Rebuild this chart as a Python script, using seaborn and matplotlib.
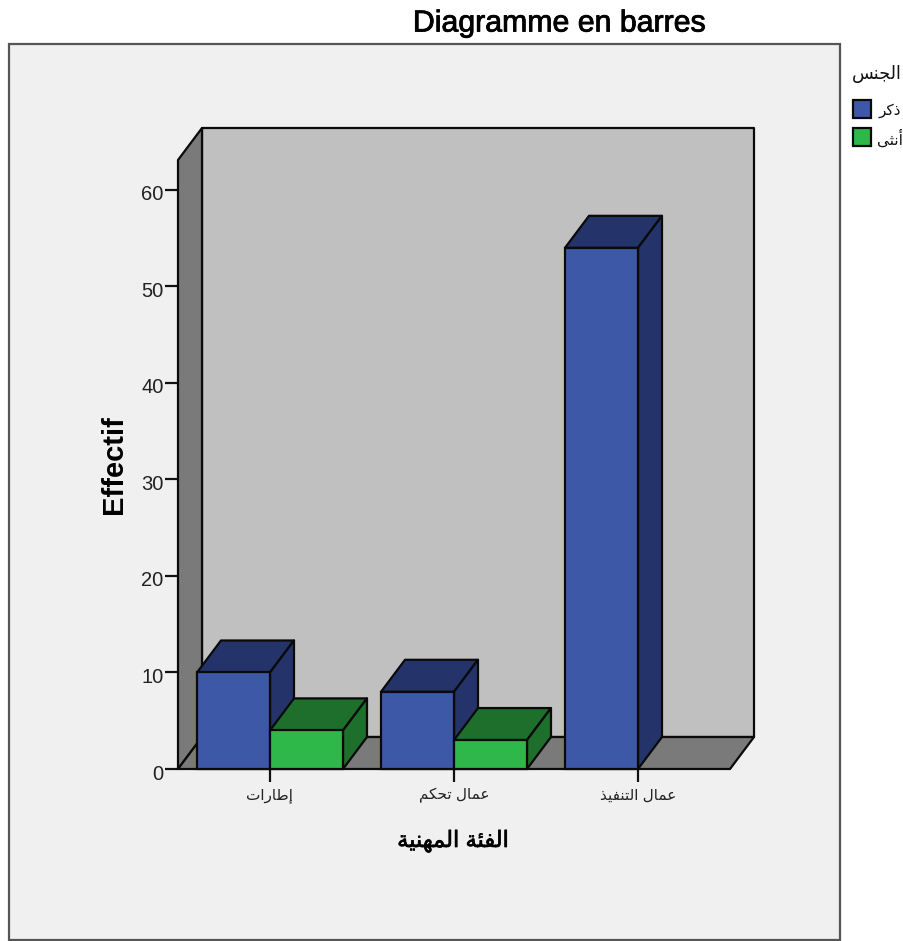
import unicodedata

import matplotlib
matplotlib.use("Agg")
import matplotlib.patheffects as pe
import matplotlib.pyplot as plt
import matplotlib.transforms as mtransforms
import pandas as pd
import seaborn as sns
from matplotlib.patches import Polygon, Rectangle

# Data
professions = ["إطارات", "عمال تحكم", "عمال التنفيذ"]
genders = ["ذكر", "أنثى"]
male_counts = [10, 8, 54]
female_counts = [4, 3]
y_ticks = [0, 10, 20, 30, 40, 50, 60]
title = "Diagramme en barres"
y_label = "Effectif"
x_label = "الفئة المهنية"
legend_title = "الجنس"

front_colors = ["#3e58a8", "#2eb84a"]
shade_colors = ["#24346b", "#1e6e2c"]

W, H = 904, 941
DEPTH_PX = (24, 32)
Y_MAX = 63.1
LINE = 1.6

# Letters that never connect to the following letter.
RIGHT_JOINING = set("اأإآدذرزوؤةى")


def shape(text):
    """Turn logical Arabic text into joined forms in drawing order."""
    out = []
    for i, ch in enumerate(text):
        if not ("\u0600" <= ch <= "\u06ff"):
            out.append(ch)
            continue
        prev = text[i - 1] if i else " "
        nxt = text[i + 1] if i + 1 < len(text) else " "
        joins_prev = "\u0600" <= prev <= "\u06ff" and prev not in RIGHT_JOINING
        joins_next = "\u0600" <= nxt <= "\u06ff" and ch not in RIGHT_JOINING
        form = {(False, False): "ISOLATED", (True, False): "FINAL",
                (False, True): "INITIAL", (True, True): "MEDIAL"}[(joins_prev, joins_next)]
        out.append(unicodedata.lookup(f"{unicodedata.name(ch)} {form} FORM"))
    return "".join(reversed(out))


sns.set_theme(style="white")
plt.rcParams["font.family"] = ["Liberation Sans", "DejaVu Sans"]

frame = pd.DataFrame({
    "profession": professions + professions[:2],
    "gender": [genders[0]] * 3 + [genders[1]] * 2,
    "count": male_counts + female_counts,
})

fig = plt.figure(figsize=(W / 100, H / 100), dpi=100, facecolor="white")
fig.add_artist(Rectangle((9 / W, 1 - 940 / H), 831 / W, 896 / H, transform=fig.transFigure,
                         facecolor="#f0f0f0", edgecolor="#555555", linewidth=1.6, zorder=-5))

ax = fig.add_axes([178 / W, 1 - 769 / H, 552 / W, 609 / H])
ax.patch.set_visible(False)

sns.barplot(data=frame, x="profession", y="count", hue="gender", order=professions,
            hue_order=genders, palette=front_colors, saturation=1, dodge=True,
            width=146 / 184, gap=0, edgecolor="#0a0a0a", linewidth=LINE, legend=False,
            errorbar=None, ax=ax)

ax.set_xlim(-0.5, 2.5)
ax.set_ylim(0, Y_MAX)
dx = DEPTH_PX[0] * 3 / 552
dy = DEPTH_PX[1] * Y_MAX / 609


def box_face(points, color, z):
    ax.add_patch(Polygon(points, closed=True, facecolor=color, edgecolor="#0a0a0a",
                         linewidth=LINE, clip_on=False, zorder=z, joinstyle="round"))


# Back wall, left wall and floor of the box
x0, x1 = ax.get_xlim()
box_face([(x0 + dx, dy), (x1 + dx, dy), (x1 + dx, Y_MAX + dy), (x0 + dx, Y_MAX + dy)], "#c0c0c0", 1)
box_face([(x0, 0), (x0 + dx, dy), (x0 + dx, Y_MAX + dy), (x0, Y_MAX)], "#7a7a7a", 1.1)
box_face([(x0, 0), (x1, 0), (x1 + dx, dy), (x0 + dx, dy)], "#7a7a7a", 1.1)

# Extrude every bar, painting left to right so nearer faces overlap correctly
bars = [b for b in ax.patches if isinstance(b, Rectangle) and b.get_height() > 0]
bars.sort(key=lambda b: b.get_x())
for n, bar in enumerate(bars):
    left, right, top = bar.get_x(), bar.get_x() + bar.get_width(), bar.get_height()
    shade = shade_colors[0] if bar.get_facecolor()[2] > bar.get_facecolor()[1] else shade_colors[1]
    z = 3 + n
    box_face([(left, top), (right, top), (right + dx, top + dy), (left + dx, top + dy)], shade, z)
    box_face([(right, 0), (right + dx, dy), (right + dx, top + dy), (right, top)], shade, z)
    bar.set_zorder(z + 0.5)
    bar.set_clip_on(False)

for side in ax.spines.values():
    side.set_visible(False)

ax.set_yticks(y_ticks)
ax.set_xticks(range(len(professions)))
ax.set_xticklabels([shape(p) for p in professions], fontsize=11, color="#222222")
ax.tick_params(axis="y", left=True, length=9.4, width=LINE, color="#111111", pad=1,
               labelsize=14.5, labelcolor="#222222")
ax.tick_params(axis="x", bottom=True, length=9.4, width=LINE, color="#111111", pad=4.5)
ax.set_xlabel("")
ax.set_ylabel("")

# Value labels sit slightly below their tick marks
nudge = mtransforms.ScaledTranslation(0, -3 / 100, fig.dpi_scale_trans)
for lab in ax.get_yticklabels():
    lab.set_transform(lab.get_transform() + nudge)

title_text = fig.text(559 / W, 1 - 23.5 / H, title, ha="center", va="center", fontsize=21.8,
                      color="black")
title_text.set_path_effects([pe.withStroke(linewidth=0.6, foreground="black")])
fig.text(114 / W, 1 - 464.5 / H, y_label, ha="center", va="center", rotation=90,
         fontsize=21, fontweight="bold", color="black")
label_text = fig.text(453 / W, 1 - 841 / H, shape(x_label), ha="center", va="center", fontsize=16.2,
                      color="black")
label_text.set_path_effects([pe.withStroke(linewidth=0.5, foreground="black")])

# Legend block on the right of the panel
fig.text(877 / W, 1 - 74 / H, shape(legend_title), ha="center", va="center", fontsize=12.8, color="#111111")
for gender, color, top_px in zip(genders, front_colors, (100, 128)):
    fig.add_artist(Rectangle((853 / W, 1 - (top_px + 18) / H), 18 / W, 18 / H, transform=fig.transFigure,
                             facecolor=color, edgecolor="#0a0a0a", linewidth=LINE))
    fig.text(890 / W, 1 - (top_px + 11) / H, shape(gender), ha="center", va="center", fontsize=11,
             color="#111111")

fig.savefig("out.png", dpi=100)
